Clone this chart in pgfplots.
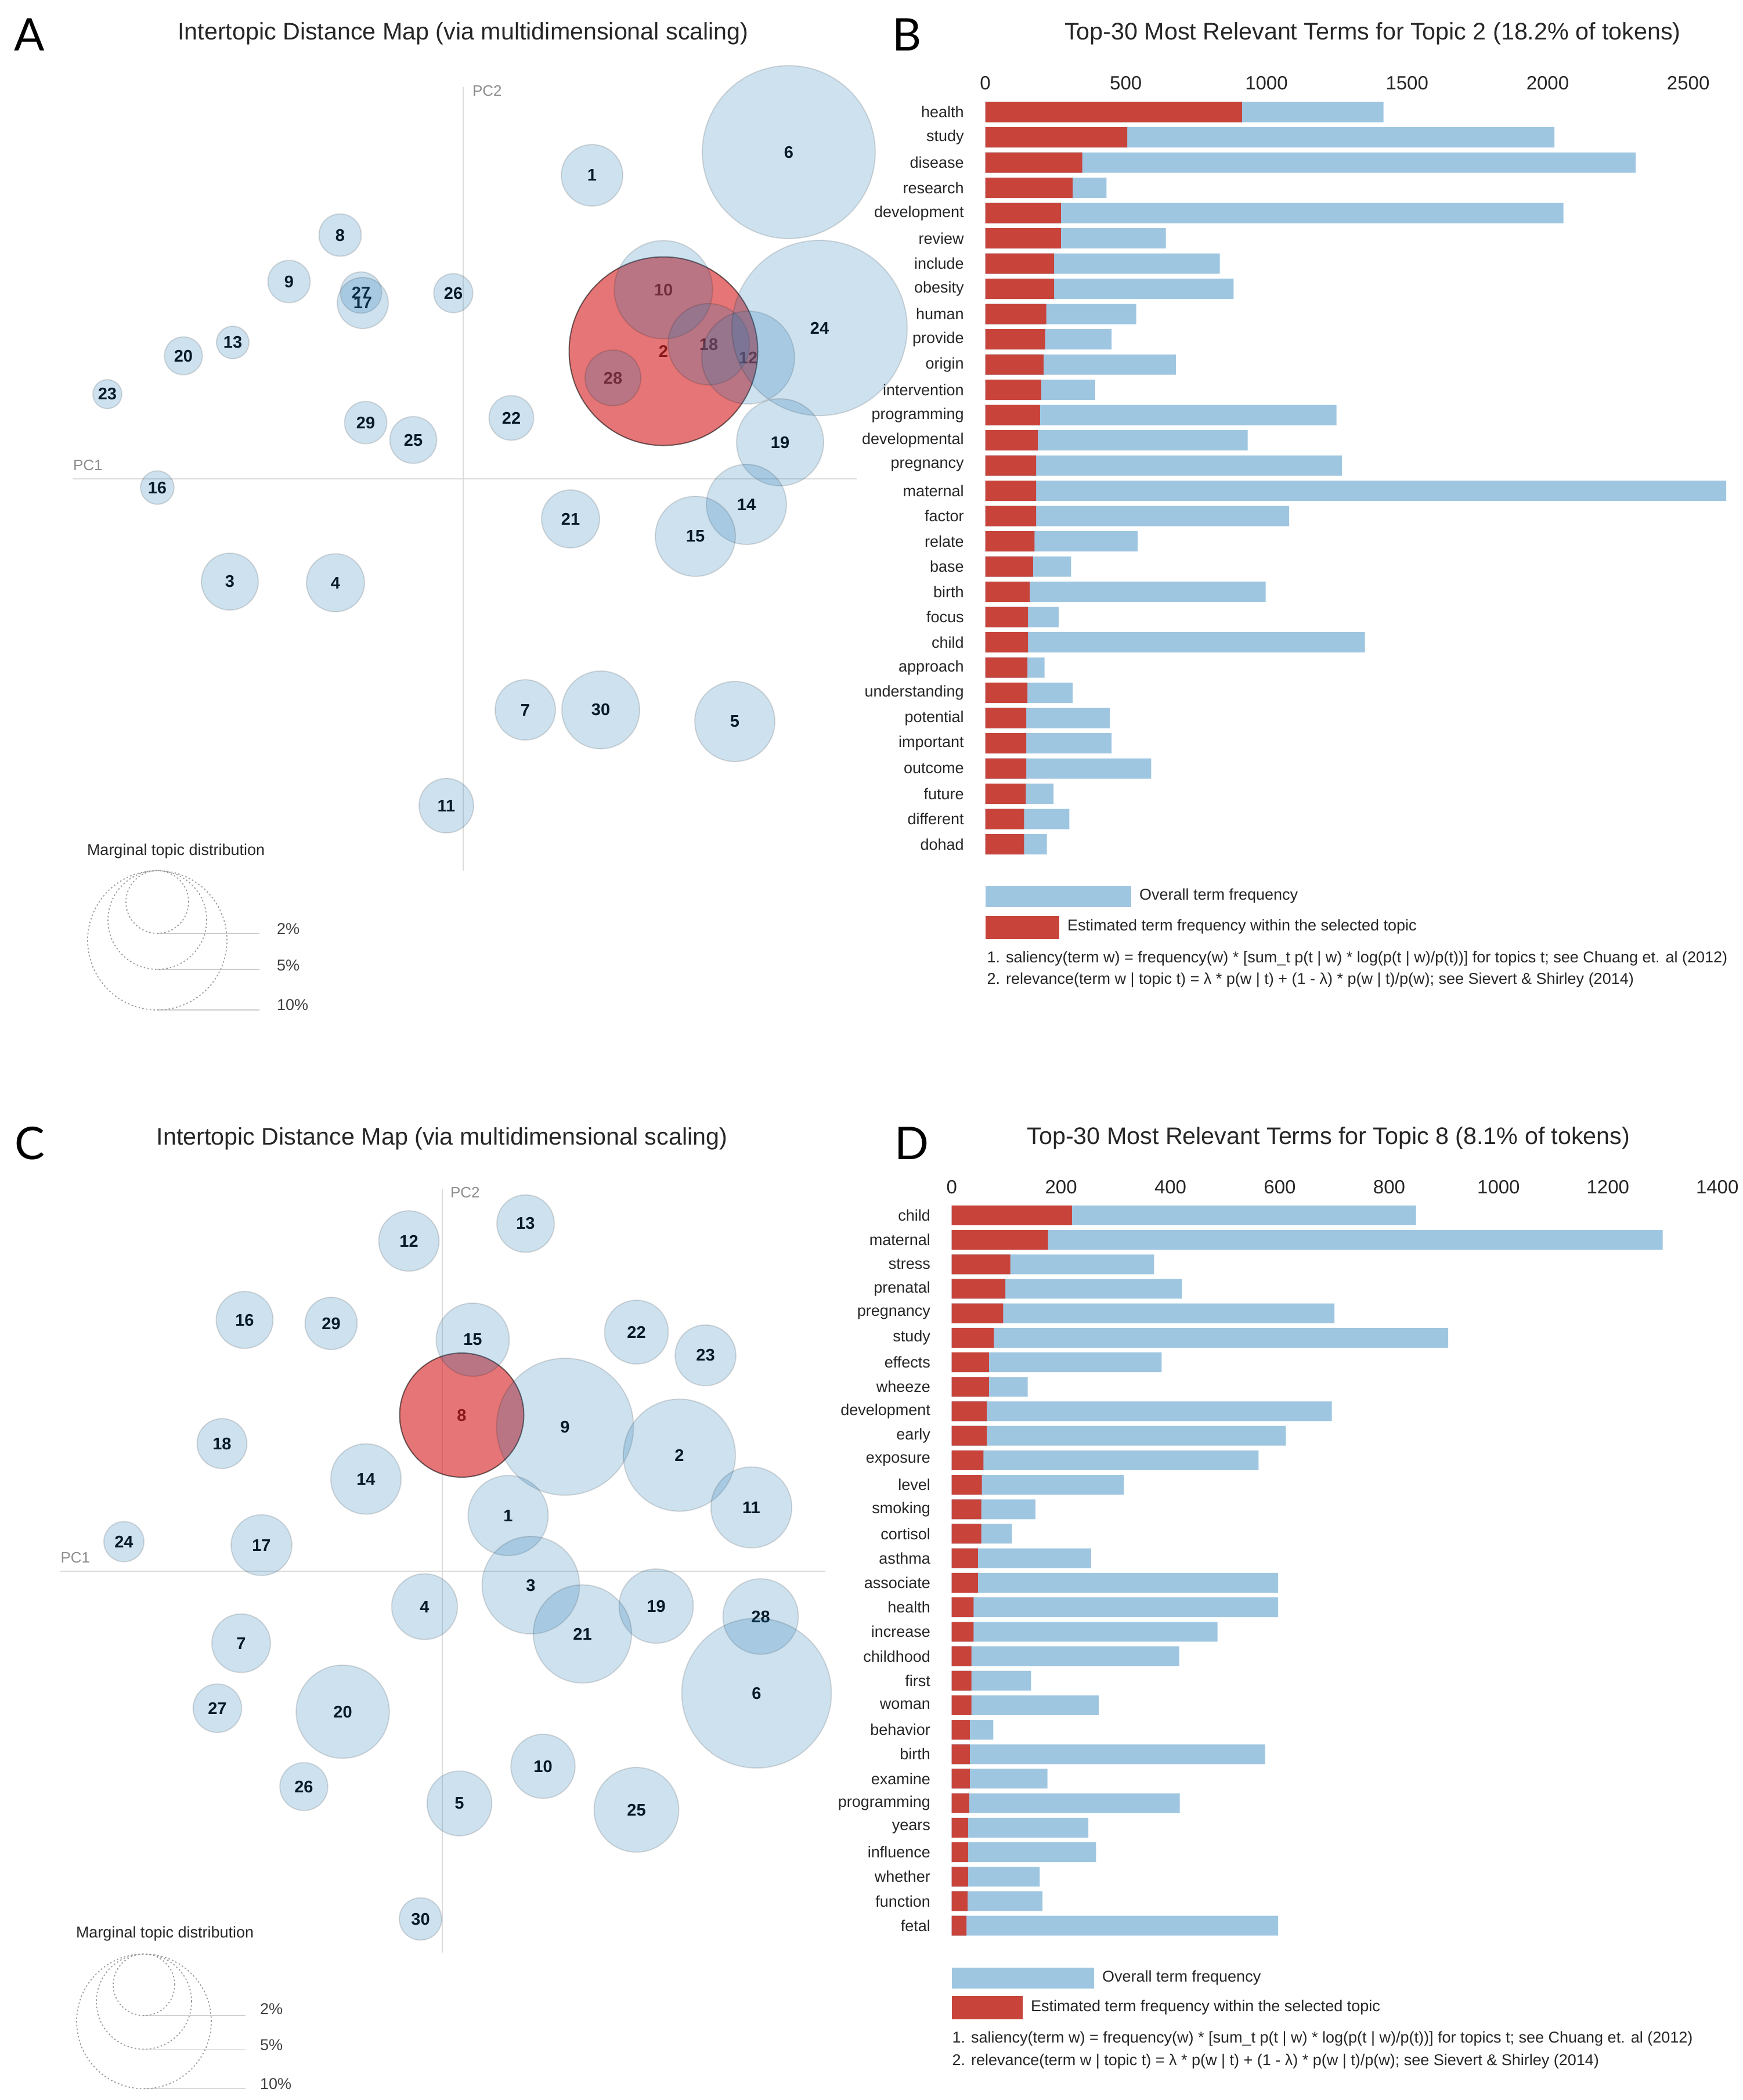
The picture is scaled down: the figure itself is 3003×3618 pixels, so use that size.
\documentclass[border=0pt]{standalone}
\usepackage{pgfplots}
\pgfplotsset{compat=1.18}
\usepackage{pgfplotstable}
\usepackage{fontspec}
\setmainfont{Liberation Sans}
\newfontfamily\letterfont{Lato}

\definecolor{tabblue}{HTML}{1F77B4}
\definecolor{tabred}{HTML}{D62728}
\definecolor{barblue}{HTML}{9FC6E1}
\definecolor{barred}{HTML}{C8443B}

\newcommand\titlefont{\fontsize{8.25}{9.5}\selectfont}
\newcommand\tickfont{\fontsize{6.6}{7.5}\selectfont}
\newcommand\termfont{\fontsize{5.4}{6.2}\selectfont}
\newcommand\bubfont{\fontsize{5.8}{6.5}\selectfont\bfseries}
\newcommand\pcfont{\fontsize{5.2}{6}\selectfont}
\newcommand\panelfont{\letterfont\fontsize{15.5}{16}\selectfont}

% topic positions on the intertopic map (px from the PC1/PC2 crossing) and radius
\pgfplotstableread{
lab X Y r
1 222 523 53
6 561 563 149
8 -212 420 36.5
9 -300 340 36.5
27 -176 321 35.6
17 -173 303 44
26 -17 320 33.7
10 345 326 84.6
18 423 232 70
12 491 209 80
24 614 260 151
28 258 174 48
13 -397 235 28
20 -482 212 32.7
23 -613 146 25
29 -168 97 36.5
25 -86 67 40.4
22 83 105 38.5
19 546 63 75
16 -527 -15 28.8
21 185 -69 50
14 488 -44 69
15 400 -99 69
3 -402 -177 49
4 -220 -179 50
7 107 -398 52
30 237 -398 67
5 468 -418 69
11 -29 -563 47
}\bubA
\pgfplotstableread{
lab X Y r
2 345 220 162.5
}\selA

\pgfplotstableread{
lab X Y r
12 -57 569 52
13 144 599 49.5
16 -340 433 49
29 -191 427 45
15 53 399 63
22 335 412 55
23 454 372 52.4
9 212 249 118
2 409 200 96.6
18 -379 220 43
14 -131 159 60.6
1 114 96 69
11 533 110 69.7
24 -548 51 34.6
17 -311 45 52.4
3 153 -24 84
4 -30 -61 56.7
19 369 -60 64
28 549 -78 65
21 242 -108 84.6
7 -346 -124 50.5
6 542 -210 129
27 -387 -236 41.8
20 -171 -242 80.3
10 174 -336 55.3
26 -238 -371 41.3
5 30 -400 55.8
25 335 -411 73
30 -37 -599 36.5
}\bubC
\pgfplotstableread{
lab X Y r
8 34 269 107
}\selC

% size legend circles
\pgfplotstableread{
X Y r
-527 -729 54
-527 -760 85
-527 -795 120
}\margA
\pgfplotstableread{
X Y r
-513.5 -712.5 53
-513.5 -741.5 82
-513.5 -775.5 116
}\margC

% term frequencies: overall and within the selected topic
\pgfplotstableread{
term total topic
health 1416 913
study 2024 505
disease 2313 345
research 431 311
development 2056 269
review 642 269
include 834 245
obesity 883 245
human 537 217
provide 449 213
origin 678 207
intervention 391 199
programming 1249 195
developmental 933 187
pregnancy 1268 181
maternal 2635 181
factor 1081 181
relate 542 175
base 305 170
birth 997 158
focus 261 152
child 1350 152
approach 211 150
understanding 311 150
potential 443 146
important 449 146
outcome 590 146
future 243 144
different 299 138
dohad 219 138
}\topicB

\pgfplotstableread{
term total topic
child 849 220
maternal 1300 176
stress 370 107
prenatal 421 98
pregnancy 700 94
study 908 77
effects 384 68
wheeze 139 68
development 695 64
early 611 64
exposure 561 58
level 315 55
smoking 153 54
cortisol 110 54
asthma 255 48
associate 597 48
health 597 40
increase 486 40
childhood 416 36
first 145 36
woman 269 36
behavior 76 33
birth 573 33
examine 175 33
programming 417 32
years 250 30
influence 264 30
whether 161 30
function 166 29
fetal 597 27
}\topicD

\pgfplotsset{
  bubble map/.style={anchor=south west, scale only axis, width=280pt, height=280pt,
    xmin=-700, xmax=700, ymin=-700, ymax=700, hide axis, clip=false},
  pc line/.style={color=black!14, line width=0.4pt, forget plot},
  topic labels/.style={only marks, mark=none, point meta=explicit symbolic,
    nodes near coords, nodes near coords align=center,
    every node near coord/.append style={font=\bubfont, text=black, inner sep=0pt}},
  topic circles/.style={scatter, only marks, mark=*,
    scatter/use mapped color={draw=black, fill=tabblue},
    visualization depends on={\thisrow{r}\as\rad},
    scatter/@pre marker code/.append style={/tikz/mark size=0.2*\rad},
    mark options={fill opacity=0.22, draw opacity=0.13, line width=0.4pt}},
  selected circle/.style={scatter, only marks, mark=*,
    scatter/use mapped color={draw=black, fill=tabred},
    visualization depends on={\thisrow{r}\as\rad},
    scatter/@pre marker code/.append style={/tikz/mark size=0.2*\rad},
    mark options={fill opacity=0.64, draw opacity=0.55, line width=0.4pt}},
  marg circles/.style={scatter, only marks, mark=o,
    scatter/use mapped color={draw=black!40},
    visualization depends on={\thisrow{r}\as\rad},
    scatter/@pre marker code/.append style={/tikz/mark size=0.2*\rad},
    mark options={dash pattern=on 0.5pt off 0.8pt, line width=0.35pt}},
  marg line/.style={color=black!20, line width=0.3pt, forget plot},
  term bars/.style={anchor=north west, scale only axis, xbar,
    ymin=-0.5, ymax=29.5, y dir=reverse, ytick={0,...,29},
    axis line style={draw=none}, tick style={draw=none},
    xticklabel pos=upper,
    xticklabel style={font=\tickfont, text=black!85, anchor=center, yshift=5.6pt},
    yticklabel style={font=\termfont, text=black!85, inner sep=0pt, xshift=-2.9pt},
    /pgf/number format/assume math mode=true, /pgf/number format/1000 sep={},
    clip=false},
  term legend/.style={legend cell align=left,
    legend style={draw=none, fill=none, inner sep=0pt, outer sep=0pt,
      font=\termfont, text=black!85, nodes={inner sep=0pt}, column sep=2.8pt,
      at={(0,0)}, anchor=north west}},
}

\begin{document}
\begin{tikzpicture}[x=0.2pt,y=0.2pt]
\path[use as bounding box] (0,0) rectangle (3003,-3618);
% corners where the four axes sit
\coordinate (mapA) at (98,-1525);
\coordinate (barB) at (1697.5,-171.25);
\coordinate (mapC) at (61.5,-3407);
\coordinate (barD) at (1639.7,-2072.7);

% ---------------- A ----------------
\node[font=\panelfont] at (51,-60) {A};
\node[font=\titlefont, text=black!85] at (798,-58) {Intertopic Distance Map (via multidimensional scaling)};
\begin{axis}[bubble map, at={(mapA)}]
  \addplot[pc line] coordinates {(-673,0) (678,0)};
  \addplot[pc line] coordinates {(0,675) (0,-675)};
  \node[font=\pcfont, text=black!45, anchor=west, inner sep=0pt] at (axis cs:-673,23) {PC1};
  \node[font=\pcfont, text=black!45, anchor=west, inner sep=0pt] at (axis cs:15,668) {PC2};
  \addplot[topic labels] table[x=X, y=Y, meta=lab] {\bubA};
  \addplot[topic labels] table[x=X, y=Y, meta=lab] {\selA};
  \addplot[selected circle] table[x=X, y=Y] {\selA};
  \addplot[topic circles] table[x=X, y=Y] {\bubA};
  \node[font=\termfont, text=black!85, anchor=west, inner sep=0pt] at (axis cs:-649,-641) {Marginal topic distribution};
  \addplot[marg circles] table[x=X, y=Y] {\margA};
  \addplot[marg line] coordinates {(-527,-783) (-351,-783)};
  \addplot[marg line] coordinates {(-527,-845) (-351,-845)};
  \addplot[marg line] coordinates {(-527,-915) (-351,-915)};
  \node[font=\termfont, text=black!75, anchor=west, inner sep=0pt] at (axis cs:-322,-775) {2\%};
  \node[font=\termfont, text=black!75, anchor=west, inner sep=0pt] at (axis cs:-322,-838) {5\%};
  \node[font=\termfont, text=black!75, anchor=west, inner sep=0pt] at (axis cs:-322,-906) {10\%};
\end{axis}

% ---------------- B ----------------
\node[font=\panelfont] at (1563,-60) {B};
\node[font=\titlefont, text=black!85] at (2365,-58) {Top-30 Most Relevant Terms for Topic 2 (18.2\% of tokens)};
\begin{axis}[term bars, term legend, at={(barB)}, width=255.8pt, height=261pt,
    bar width=7pt, xmin=0, xmax=2640, xtick={0,500,...,2500},
    yticklabels from table={\topicB}{term}, legend style={yshift=-10pt}]
  \addplot[fill=barblue, draw=none, bar shift=0pt,
    legend image code/.code={\fill[barblue] (0pt,-3.7pt) rectangle (50.3pt,3.7pt);}]
    table[x=total, y expr=\coordindex] {\topicB};
  \addlegendentry{Overall term frequency}
  \addplot[fill=barred, draw=none, bar shift=0pt]
    table[x=topic, y expr=\coordindex] {\topicB};
\end{axis}
\begin{axis}[term legend, anchor=north west, at={(barB)}, scale only axis,
    width=255.8pt, height=261pt, hide axis, xmin=0, xmax=1, ymin=0, ymax=1,
    legend style={yshift=-20.25pt}]
  \addlegendimage{legend image code/.code={\fill[barred] (0pt,-3.8pt) rectangle (25.1pt,3.8pt);}}
  \addlegendentry{Estimated term frequency within the selected topic}
\end{axis}
\node[font=\termfont, text=black!85, anchor=west, inner sep=0pt] at (1699.5,-1651.6)
  {1. saliency(term w) = frequency(w) * [sum\_t p(t | w) * log(p(t | w)/p(t))] for topics t; see Chuang et. al (2012)};
\node[font=\termfont, text=black!85, anchor=west, inner sep=0pt] at (1699.5,-1688.6)
  {2. relevance(term w | topic t) = λ * p(w | t) + (1 - λ) * p(w | t)/p(w); see Sievert \& Shirley (2014)};

% ---------------- C ----------------
\node[font=\panelfont] at (51,-1970) {C};
\node[font=\titlefont, text=black!85] at (761.5,-1962) {Intertopic Distance Map (via multidimensional scaling)};
\begin{axis}[bubble map, at={(mapC)}]
  \addplot[pc line] coordinates {(-658,0) (660,0)};
  \addplot[pc line] coordinates {(0,658) (0,-657)};
  \node[font=\pcfont, text=black!45, anchor=west, inner sep=0pt] at (axis cs:-658,23) {PC1};
  \node[font=\pcfont, text=black!45, anchor=west, inner sep=0pt] at (axis cs:13.5,652) {PC2};
  \addplot[topic labels] table[x=X, y=Y, meta=lab] {\bubC};
  \addplot[topic labels] table[x=X, y=Y, meta=lab] {\selC};
  \addplot[selected circle] table[x=X, y=Y] {\selC};
  \addplot[topic circles] table[x=X, y=Y] {\bubC};
  \node[font=\termfont, text=black!85, anchor=west, inner sep=0pt] at (axis cs:-631.5,-624) {Marginal topic distribution};
  \addplot[marg circles] table[x=X, y=Y] {\margC};
  \addplot[marg line] coordinates {(-513.5,-765.5) (-338.5,-765.5)};
  \addplot[marg line] coordinates {(-513.5,-823.5) (-338.5,-823.5)};
  \addplot[marg line] coordinates {(-513.5,-891.5) (-338.5,-891.5)};
  \node[font=\termfont, text=black!75, anchor=west, inner sep=0pt] at (axis cs:-314.5,-754) {2\%};
  \node[font=\termfont, text=black!75, anchor=west, inner sep=0pt] at (axis cs:-314.5,-816) {5\%};
  \node[font=\termfont, text=black!75, anchor=west, inner sep=0pt] at (axis cs:-314.5,-883) {10\%};
\end{axis}

% ---------------- D ----------------
\node[font=\panelfont] at (1571,-1970) {D};
\node[font=\titlefont, text=black!85] at (2289,-1961) {Top-30 Most Relevant Terms for Topic 8 (8.1\% of tokens)};
\begin{axis}[term bars, term legend, at={(barD)}, width=263.8pt, height=253.2pt,
    bar width=6.8pt, xmin=0, xmax=1400, xtick={0,200,...,1400},
    yticklabels from table={\topicD}{term}, legend style={yshift=-10.2pt}]
  \addplot[fill=barblue, draw=none, bar shift=0pt,
    legend image code/.code={\fill[barblue] (0pt,-3.65pt) rectangle (49.1pt,3.65pt);}]
    table[x=total, y expr=\coordindex] {\topicD};
  \addlegendentry{Overall term frequency}
  \addplot[fill=barred, draw=none, bar shift=0pt]
    table[x=topic, y expr=\coordindex] {\topicD};
\end{axis}
\begin{axis}[term legend, anchor=north west, at={(barD)}, scale only axis,
    width=263.8pt, height=253.2pt, hide axis, xmin=0, xmax=1, ymin=0, ymax=1,
    legend style={yshift=-20.1pt}]
  \addlegendimage{legend image code/.code={\fill[barred] (0pt,-3.75pt) rectangle (24.1pt,3.75pt);}}
  \addlegendentry{Estimated term frequency within the selected topic}
\end{axis}
\node[font=\termfont, text=black!85, anchor=west, inner sep=0pt] at (1639.7,-3513)
  {1. saliency(term w) = frequency(w) * [sum\_t p(t | w) * log(p(t | w)/p(t))] for topics t; see Chuang et. al (2012)};
\node[font=\termfont, text=black!85, anchor=west, inner sep=0pt] at (1639.7,-3551.5)
  {2. relevance(term w | topic t) = λ * p(w | t) + (1 - λ) * p(w | t)/p(w); see Sievert \& Shirley (2014)};
\end{tikzpicture}
\end{document}
